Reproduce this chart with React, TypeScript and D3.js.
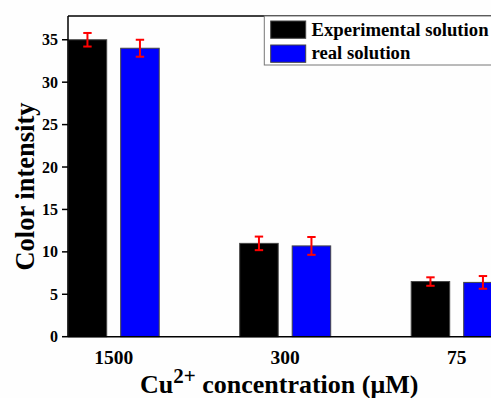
import React from "react";
import * as d3 from "d3";

const categories = ["1500", "300", "75"];
const seriesNames = ["Experimental solution", "real solution"];
const seriesColors = ["#000000", "#0000ff"];
const experimental = [35, 11, 6.5];
const experimentalErr = [0.8, 0.8, 0.5];
const real = [34, 10.7, 6.4];
const realErr = [1.0, 1.05, 0.75];
const yTicks = [0, 5, 10, 15, 20, 25, 30, 35];

const W = 491;
const H = 398;
const FONT = "'Liberation Serif', 'Times New Roman', serif";

export default function App() {
  const left = 68;
  const top = 16;
  const bottom = 336.7;
  const right = 600;

  const y = d3.scaleLinear().domain([0, 37.8]).range([bottom, top]);
  const x = d3.scalePoint<string>().domain(categories).range([113.7, 456.7]);
  const inner = d3
    .scaleBand<string>()
    .domain(seriesNames)
    .range([-45.5, 45.5])
    .paddingInner(14 / 52.5)
    .paddingOuter(0);

  const values = [experimental, real];
  const errs = [experimentalErr, realErr];

  return (
    <svg
      width={W}
      height={H}
      style={{ position: "absolute", left: 0, top: 0, background: "#fff" }}
      fontFamily={FONT}
    >
      <rect x={0} y={0} width={W} height={H} fill="#fefefe" />
      {seriesNames.map((s, si) =>
        categories.map((c, ci) => {
          const bx = (x(c) as number) + (inner(s) as number);
          const v = values[si][ci];
          return (
            <rect
              key={s + c}
              x={bx}
              y={y(v)}
              width={inner.bandwidth()}
              height={y(0) - y(v)}
              fill={seriesColors[si]}
              stroke="#444"
              strokeWidth={1}
            />
          );
        })
      )}
      {seriesNames.map((s, si) =>
        categories.map((c, ci) => {
          const cx = (x(c) as number) + (inner(s) as number) + inner.bandwidth() / 2;
          const v = values[si][ci];
          const e = errs[si][ci];
          return (
            <g key={"e" + s + c} stroke="#ff0000" strokeWidth={2}>
              <line x1={cx} x2={cx} y1={y(v + e)} y2={y(v - e)} />
              <line x1={cx - 4.2} x2={cx + 4.2} y1={y(v + e)} y2={y(v + e)} />
              <line x1={cx - 4.2} x2={cx + 4.2} y1={y(v - e)} y2={y(v - e)} />
            </g>
          );
        })
      )}
      <line x1={left} x2={right} y1={top} y2={top} stroke="#000" strokeWidth={1.5} />
      <line x1={left} x2={left} y1={top} y2={bottom} stroke="#000" strokeWidth={1.5} />
      <line x1={left} x2={right} y1={bottom} y2={bottom} stroke="#000" strokeWidth={1.5} />
      {yTicks.map((t) => (
        <g key={"yt" + t}>
          <line x1={left - 6} x2={left} y1={y(t)} y2={y(t)} stroke="#000" strokeWidth={1.5} />
          <text
            x={left - 10}
            y={y(t)}
            dy="0.35em"
            textAnchor="end"
            fontSize={16}
            fontWeight="bold"
          >
            {t}
          </text>
        </g>
      ))}
      {categories.map((c) => (
        <text
          key={"xt" + c}
          x={x(c) as number}
          y={363.5}
          textAnchor="middle"
          fontSize={19.5}
          fontWeight="bold"
        >
          {c}
        </text>
      ))}
      <text
        transform={`translate(33.5,186.5) rotate(-90)`}
        textAnchor="middle"
        fontSize={26.5}
        fontWeight="bold"
      >
        Color intensity
      </text>
      <text x={140} y={392.5} fontSize={26} fontWeight="bold">
        Cu
        <tspan fontSize={21} dy={-10}>
          2+
        </tspan>
        <tspan dy={10}> concentration (μM)</tspan>
      </text>
      <rect x={264.3} y={top} width={300} height={49} fill="#fff" stroke="#777" strokeWidth={1} />
      {seriesNames.map((s, si) => (
        <g key={"lg" + s}>
          <rect
            x={270.7}
            y={21 + si * 24}
            width={35}
            height={17.3}
            fill={seriesColors[si]}
            stroke="#444"
            strokeWidth={1}
          />
          <text x={311.5} y={35.5 + si * 23.5} fontSize={18.7} fontWeight="bold">
            {s}
          </text>
        </g>
      ))}
    </svg>
  );
}
